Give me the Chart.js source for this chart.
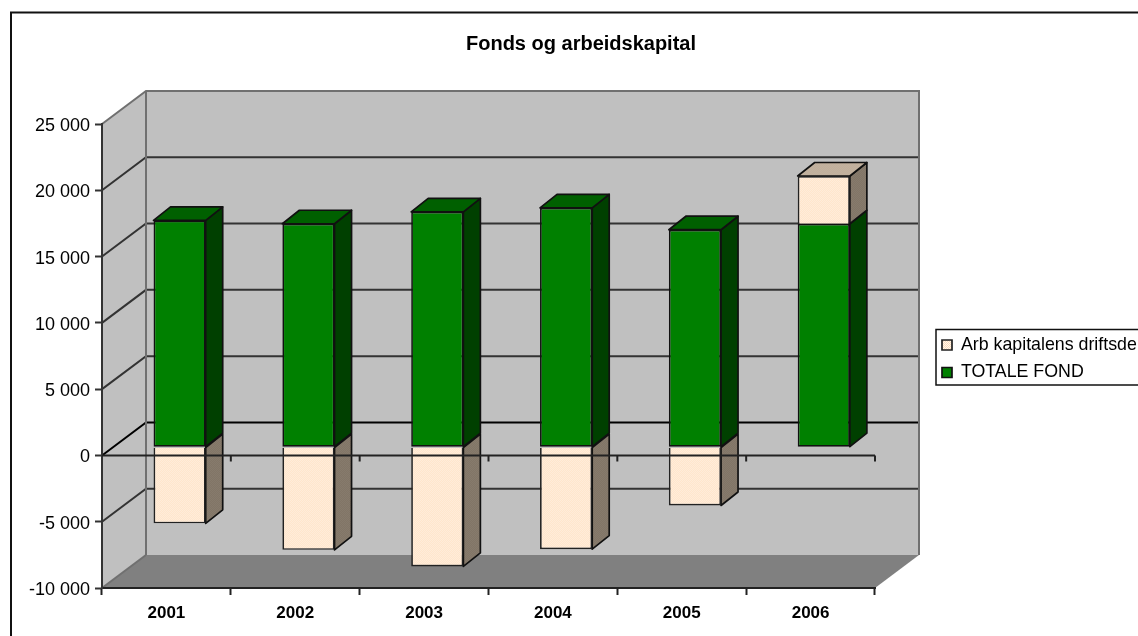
<!DOCTYPE html>
<html>
<head>
<meta charset="utf-8">
<script src="https://cdn.jsdelivr.net/npm/chart.js@4/dist/chart.umd.min.js"></script>
<style>
  html, body { margin: 0; padding: 0; background: #fff; overflow: hidden; }
  canvas { display: block; }
</style>
</head>
<body>
<canvas id="chart" width="1138" height="636"></canvas>
<script>
const years = ["2001", "2002", "2003", "2004", "2005", "2006"];
const totaleFond = [17100, 16850, 17750, 18050, 16400, 16850];
const arbKapital = [-5750, -7750, -9000, -7700, -4400, 3600];

const seriesNames = ["TOTALE FOND", "Arb kapitalens driftsde"];
const yMin = -10000;
const yMax = 25000;
const yStep = 5000;

// 3d look: the wall depth and where the bars sit inside it
const wallDepth = { x: 44, y: 33 };
const barDepth = { x: 17, y: 13.5 };
const barShift = { x: 13.2, y: -8.3 };

const fontName = "'Liberation Sans', Arial, sans-serif";

function tile(a, b) {
  const c = document.createElement("canvas");
  c.width = 2;
  c.height = 2;
  const g = c.getContext("2d");
  g.fillStyle = a;
  g.fillRect(0, 0, 2, 2);
  g.fillStyle = b;
  g.fillRect(0, 0, 1, 1);
  g.fillRect(1, 1, 1, 1);
  return document.getElementById("chart").getContext("2d").createPattern(c, "repeat");
}

const creamFront = tile("#fff7ef", "#ffdcb8");
const creamSide = tile("#8c8478", "#7c6c5c");
const creamTop = tile("#c8b8a4", "#bcaa98");

const faces = [
  { side: "#004000", top: "#006000" },
  { side: creamSide, top: creamTop }
];

function poly(ctx, pts) {
  ctx.beginPath();
  pts.forEach((p, i) => (i ? ctx.lineTo(p[0], p[1]) : ctx.moveTo(p[0], p[1])));
  ctx.closePath();
}

const look3d = {
  id: "look3d",
  afterLayout(chart) {
    // title is centred over the plot + legend, legend box hangs off the right edge
    chart.titleBlock.left = 0;
    chart.titleBlock.right = 1162;
    const lg = chart.legend;
    lg.left = 932.3;
    lg.right = 1140;
    lg.top = 326.4;
    lg.bottom = 600;
  },
  beforeDraw(chart) {
    const ctx = chart.ctx;
    const { x, y } = chart.scales;
    const l = x.left, r = x.right;
    const t = y.getPixelForValue(yMax), b = y.getPixelForValue(yMin);
    const dx = wallDepth.x, dy = wallDepth.y;

    ctx.save();
    ctx.fillStyle = "#fff";
    ctx.fillRect(0, 0, chart.width, chart.height);

    // outer frame, bottom and right are cut off in the picture
    ctx.strokeStyle = "#111";
    ctx.lineWidth = 2;
    ctx.beginPath();
    ctx.moveTo(11, chart.height);
    ctx.lineTo(11, 12.5);
    ctx.lineTo(chart.width, 12.5);
    ctx.stroke();

    // walls and floor
    ctx.fillStyle = "#c0c0c0";
    poly(ctx, [[l, t], [l + dx, t - dy], [l + dx, b - dy], [l, b]]);
    ctx.fill();
    ctx.fillRect(l + dx, t - dy, r - l, b - t);
    ctx.fillStyle = "#808080";
    poly(ctx, [[l, b], [l + dx, b - dy], [r + dx, b - dy], [r, b]]);
    ctx.fill();

    // grid lines on side and back wall
    ctx.lineWidth = 2;
    for (let v = yMin + yStep; v < yMax; v += yStep) {
      const py = y.getPixelForValue(v);
      ctx.strokeStyle = v === 0 ? "#000" : "#333";
      ctx.beginPath();
      ctx.moveTo(l, py);
      ctx.lineTo(l + dx, py - dy);
      ctx.lineTo(r + dx, py - dy);
      ctx.stroke();
    }

    // wall edges
    ctx.strokeStyle = "#707070";
    ctx.lineWidth = 2;
    ctx.beginPath();
    ctx.moveTo(l, t);
    ctx.lineTo(l + dx, t - dy);
    ctx.lineTo(r + dx, t - dy);
    ctx.lineTo(r + dx, b - dy);
    ctx.stroke();
    ctx.beginPath();
    ctx.moveTo(l + dx, t - dy);
    ctx.lineTo(l + dx, b - dy);
    ctx.stroke();
    ctx.beginPath();
    ctx.moveTo(l, b);
    ctx.lineTo(l + dx, b - dy);
    ctx.stroke();
    ctx.restore();

    // legend box
    ctx.save();
    ctx.strokeStyle = "#111";
    ctx.lineWidth = 1.5;
    ctx.strokeRect(936, 329.5, 210, 55.5);
    ctx.restore();
  },
  beforeDatasetsDraw(chart) {
    const ctx = chart.ctx;
    ctx.save();
    ctx.translate(barShift.x, barShift.y);
    ctx.strokeStyle = "#111";
    ctx.lineWidth = 1.7;
    ctx.lineJoin = "round";
    const ex = barDepth.x, ey = barDepth.y;
    years.forEach((yr, i) => {
      const bars = chart.data.datasets.map((d, k) => chart.getDatasetMeta(k).data[i]);
      const topmost = Math.min(...bars.map(e => Math.min(e.y, e.base)));
      bars.forEach((e, k) => {
        const top = Math.min(e.y, e.base), bot = Math.max(e.y, e.base);
        const left = e.x - e.width / 2, right = e.x + e.width / 2;
        ctx.fillStyle = faces[k].side;
        poly(ctx, [[right, top], [right + ex, top - ey], [right + ex, bot - ey], [right, bot]]);
        ctx.fill();
        ctx.stroke();
        if (top === topmost) {
          ctx.fillStyle = faces[k].top;
          poly(ctx, [[left, top], [left + ex, top - ey], [right + ex, top - ey], [right, top]]);
          ctx.fill();
          ctx.stroke();
        }
      });
    });
  },
  afterDatasetsDraw(chart) {
    const ctx = chart.ctx;
    ctx.restore();

    // zero line runs in front of the bars, with its own tick marks
    const { x, y } = chart.scales;
    const py = y.getPixelForValue(0);
    const step = (x.right - x.left) / years.length;
    ctx.save();
    ctx.strokeStyle = "#222";
    ctx.lineWidth = 2;
    ctx.beginPath();
    ctx.moveTo(x.left, py);
    ctx.lineTo(x.right, py);
    for (let i = 1; i <= years.length; i++) {
      ctx.moveTo(x.left + i * step, py);
      ctx.lineTo(x.left + i * step, py + 6);
    }
    ctx.stroke();
    ctx.restore();
  }
};

new Chart(document.getElementById("chart"), {
  type: "bar",
  plugins: [look3d],
  data: {
    labels: years,
    datasets: [
      {
        label: seriesNames[0],
        data: totaleFond,
        backgroundColor: "#008000",
        borderColor: "#111",
        borderWidth: 1.7,
        borderSkipped: false
      },
      {
        label: seriesNames[1],
        data: arbKapital,
        backgroundColor: creamFront,
        borderColor: "#222",
        borderWidth: 1.7,
        borderSkipped: "start"
      }
    ]
  },
  options: {
    responsive: false,
    animation: false,
    devicePixelRatio: 1,
    layout: { padding: { left: 12, right: 263, top: 0, bottom: 0 } },
    datasets: { bar: { categoryPercentage: 1, barPercentage: 0.405 } },
    plugins: {
      tooltip: { enabled: false },
      title: {
        display: true,
        text: "Fonds og arbeidskapital",
        color: "#000",
        font: { family: fontName, size: 20, weight: "bold" },
        padding: { top: 32, bottom: 68 }
      },
      legend: {
        position: "chartArea",
        align: "start",
        reverse: true,
        labels: {
          boxWidth: 10,
          boxHeight: 10,
          padding: 9.7,
          color: "#000",
          font: { family: fontName, size: 17.8 }
        }
      }
    },
    scales: {
      x: {
        stacked: true,
        afterFit(s) { s.height = 48; },
        border: { display: true, color: "#222", width: 2 },
        grid: { offset: true, drawOnChartArea: false, tickLength: 7, tickColor: "#222", tickWidth: 2 },
        ticks: {
          color: "#000",
          padding: 8,
          maxRotation: 0,
          font: { family: fontName, size: 17, weight: "bold" }
        }
      },
      y: {
        stacked: true,
        min: yMin,
        max: yMax,
        afterFit(s) { s.width = 90; },
        border: { display: true, color: "#333", width: 2 },
        grid: { drawOnChartArea: false, tickLength: 7, tickColor: "#333", tickWidth: 2 },
        ticks: {
          stepSize: yStep,
          color: "#000",
          padding: 5,
          labelOffset: 2,
          font: { family: fontName, size: 18 },
          callback: v => String(v).replace(/\B(?=(\d{3})+$)/g, " ")
        }
      }
    }
  }
});
</script>
</body>
</html>
